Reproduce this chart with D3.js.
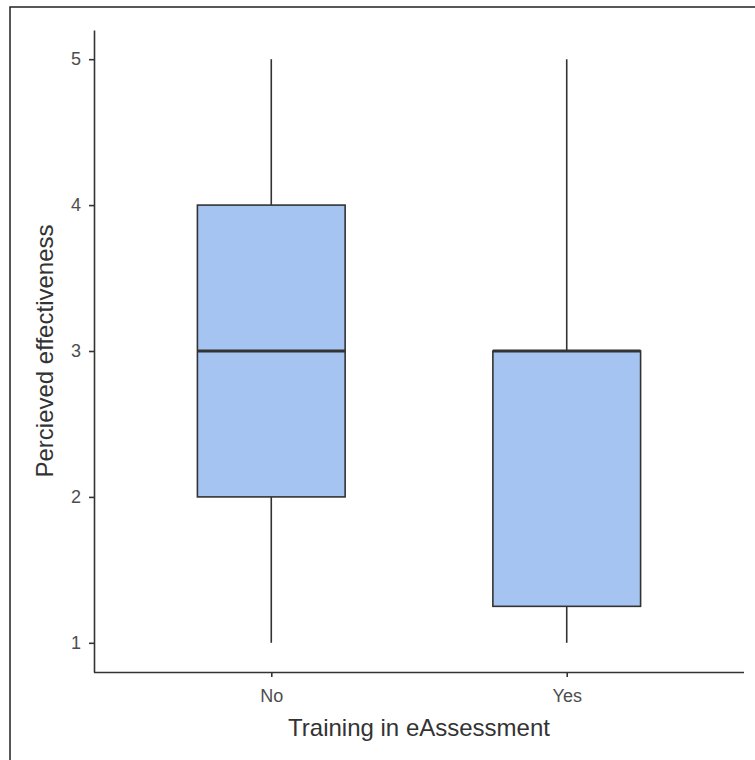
<!DOCTYPE html>
<html><head><meta charset="utf-8">
<script src="https://cdn.jsdelivr.net/npm/d3@7"></script>
<style>body{margin:0;background:#fff}svg{display:block}</style>
</head><body>
<script>
const categories = ["No", "Yes"];
const whiskerLow = [1, 1];
const q1 = [2, 1.25];
const median = [3, 3];
const q3 = [4, 3];
const whiskerHigh = [5, 5];
const yTicks = [1, 2, 3, 4, 5];

(function () {
const W = 755, H = 760;
const svg = d3.select("body").append("svg").attr("width", W).attr("height", H);
svg.append("rect").attr("x", 10).attr("y", 7).attr("width", 800).attr("height", 800)
  .attr("fill", "#fff").attr("stroke", "#222").attr("stroke-width", 1.5);

const pL = 94, pR = 744, pT = 30, pB = 672;
const y = d3.scaleLinear().domain([0.8, 5.2]).range([pB, pT]);
const xIdx = d3.scaleLinear().domain([0.4, 2.6]).range([pL, pR]);
const xPos = i => xIdx(i + 1);
const halfW = (xIdx(1.25) - xIdx(1));

const data = categories.map((c, i) => ({c, i, lo: whiskerLow[i], q1: q1[i], med: median[i], q3: q3[i], hi: whiskerHigh[i]}));
const g = svg.append("g");
const col = "#333333";
data.forEach(d => {
  const cx = xPos(d.i);
  g.append("line").attr("x1", cx).attr("x2", cx).attr("y1", y(d.hi)).attr("y2", y(d.q3)).attr("stroke", col).attr("stroke-width", 1.6);
  g.append("line").attr("x1", cx).attr("x2", cx).attr("y1", y(d.q1)).attr("y2", y(d.lo)).attr("stroke", col).attr("stroke-width", 1.6);
  g.append("rect").attr("x", cx - halfW).attr("width", 2 * halfW)
    .attr("y", y(d.q3)).attr("height", y(d.q1) - y(d.q3))
    .attr("fill", "#a6c4f1").attr("stroke", col).attr("stroke-width", 1.6);
  g.append("line").attr("x1", cx - halfW).attr("x2", cx + halfW).attr("y1", y(d.med)).attr("y2", y(d.med)).attr("stroke", col).attr("stroke-width", 3);
});

const font = "Liberation Sans, Arial, sans-serif";
const ya = svg.append("g").attr("transform", `translate(${pL},0)`)
  .call(d3.axisLeft(y).tickValues(yTicks).tickFormat(d3.format("d")).tickSize(5).tickSizeOuter(0));
ya.select(".domain").attr("stroke", col).attr("stroke-width", 1.6);
ya.selectAll(".tick line").attr("stroke", col).attr("stroke-width", 1.6);
ya.selectAll(".tick text").attr("font-family", font).attr("font-size", 18).attr("fill", "#4d4d4d").attr("x", -13);

const xa = svg.append("g").attr("transform", `translate(0,${pB})`)
  .call(d3.axisBottom(d3.scalePoint().domain(categories).range([xPos(0), xPos(1)])).tickSize(5).tickSizeOuter(0));
xa.select(".domain").attr("d", `M${pL},0.5H${pR}`).attr("stroke", col).attr("stroke-width", 1.6);
xa.selectAll(".tick line").attr("stroke", col).attr("stroke-width", 1.6);
xa.selectAll(".tick text").attr("font-family", font).attr("font-size", 18).attr("fill", "#4d4d4d").attr("y", 30).attr("dy", 0);

svg.append("text").attr("x", (pL + pR) / 2).attr("y", 736).attr("text-anchor", "middle")
  .attr("font-family", font).attr("font-size", 24).attr("fill", "#333").text("Training in eAssessment");
svg.append("text").attr("transform", `translate(53,${(pT + pB) / 2}) rotate(-90)`).attr("text-anchor", "middle")
  .attr("font-family", font).attr("font-size", 24).attr("fill", "#333").text("Percieved effectiveness");
})();
</script>
</body></html>
